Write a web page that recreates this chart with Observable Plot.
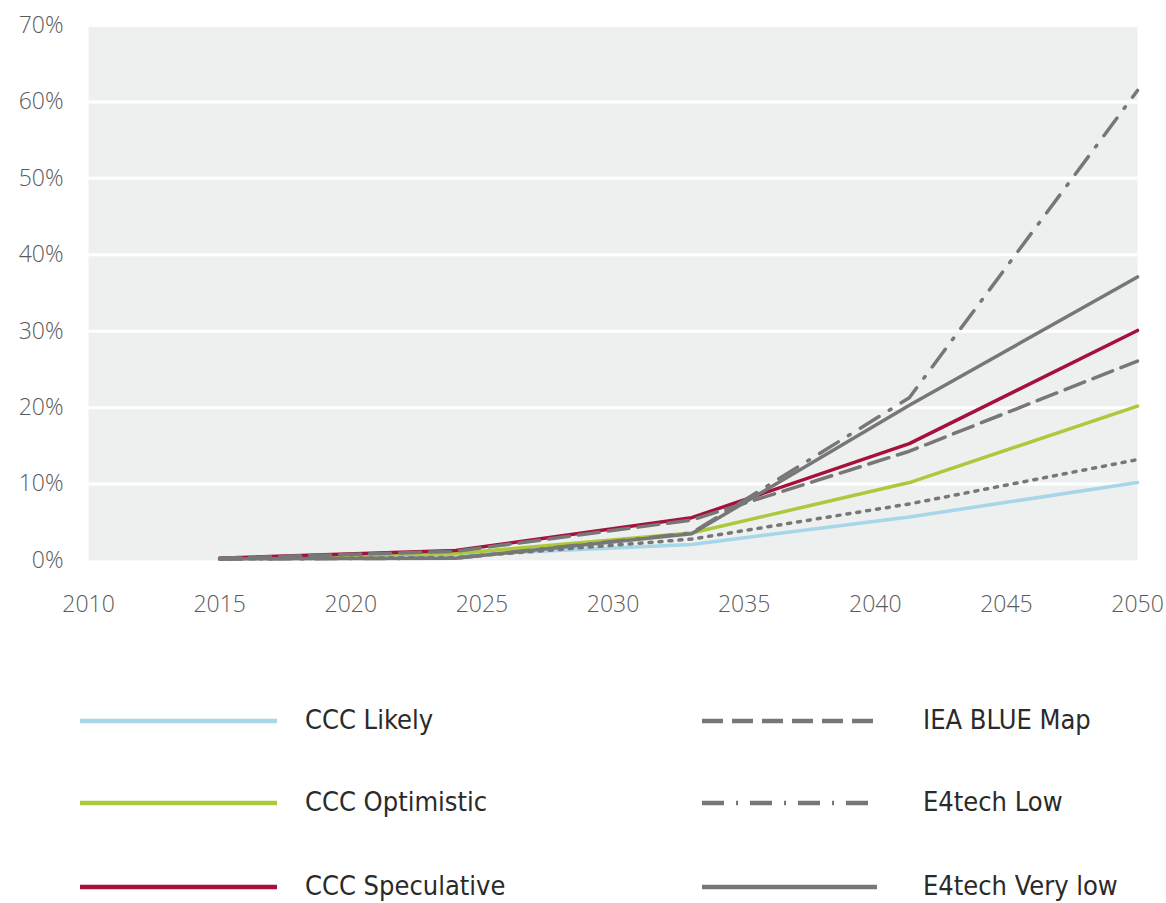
<!DOCTYPE html>
<html>
<head>
<meta charset="utf-8">
<script src="https://cdn.jsdelivr.net/npm/d3@7"></script>
<script src="https://cdn.jsdelivr.net/npm/@observablehq/plot@0.6"></script>
<style>
  html, body { margin: 0; padding: 0; background: #fff; }
  #legend { position: relative; width: 1166px; height: 263px; font-family: "Liberation Sans Narrow", "DejaVu Sans Condensed", sans-serif; font-size: 27px; color: #2a2a2a; }
  .item { position: absolute; display: block; }
  .item svg { position: absolute; left: 0; top: -10px; }
  .item span { position: absolute; white-space: nowrap; top: -17px; }
</style>
</head>
<body>
<div id="chart"></div>
<div id="legend"></div>
<script>
const years = [2015, 2024, 2033, 2041.3, 2050];
const cccLikely      = [0.3, 0.7, 2.1, 5.7, 10.2];
const cccOptimistic  = [0.3, 0.9, 3.6, 10.2, 20.2];
const cccSpeculative = [0.3, 1.3, 5.6, 15.3, 30.1];
const ieaBlueMap     = [0.3, 1.2, 5.3, 14.3, 26.1];
const e4techLow      = [0.2, 0.3, 3.6, 21.3, 61.5];
const e4techVeryLow  = [0.2, 0.3, 3.5, 20.3, 37.1];
const unlabelledDotted = [0.2, 0.4, 2.8, 7.4, 13.2];

const xTicks = [2010, 2015, 2020, 2025, 2030, 2035, 2040, 2045, 2050];
const yTicks = [0, 10, 20, 30, 40, 50, 60, 70];

const series = [
  {name: "CCC Likely", values: cccLikely, color: "#a6d6e7", dash: null, legend: true},
  {name: "CCC Optimistic", values: cccOptimistic, color: "#abc93c", dash: null, legend: true},
  {name: "CCC Speculative", values: cccSpeculative, color: "#a5113b", dash: null, legend: true},
  {name: "Dotted", values: unlabelledDotted, color: "#777", dash: "3,7", legend: false},
  {name: "IEA BLUE Map", values: ieaBlueMap, color: "#777", dash: "21,9", legend: true},
  {name: "E4tech Low", values: e4techLow, color: "#777", dash: "22,12,2,12", legend: true},
  {name: "E4tech Very low", values: e4techVeryLow, color: "#777", dash: null, legend: true}
];

const lineMarks = series.map(s =>
  Plot.line(years.map((yr, i) => ({year: yr, v: s.values[i]})), {
    x: "year", y: "v", stroke: s.color, strokeWidth: 3.5,
    strokeDasharray: s.dash, strokeLinejoin: "round"
  })
);

const chart = Plot.plot({
  width: 1166, height: 640,
  marginLeft: 88, marginRight: 29, marginTop: 25, marginBottom: 80,
  style: {fontFamily: "'Open Sans', sans-serif", fontSize: "23px", color: "#5a5a5a", background: "#fff", fontWeight: 300},
  x: {domain: [2010, 2050], ticks: xTicks, tickFormat: d => String(d), tickSize: 0, tickPadding: 35, label: null},
  y: {domain: [0, 70], ticks: yTicks, tickFormat: d => d + "%", tickSize: 0, tickPadding: 25, label: null},
  marks: [
    Plot.frame({fill: "#eef0f0", stroke: "none"}),
    Plot.ruleY(yTicks.slice(1), {stroke: "#fff", strokeWidth: 3}),
    ...lineMarks
  ]
});
document.getElementById("chart").appendChild(chart);

// Legend (HTML, below the SVG)
const legendPos = [
  {x: 80, w: 197, tx: 305, y: 81},
  {x: 80, w: 197, tx: 305, y: 163},
  {x: 80, w: 197, tx: 305, y: 247},
  {x: 702, w: 175, tx: 923, y: 81},
  {x: 702, w: 175, tx: 923, y: 163},
  {x: 702, w: 175, tx: 923, y: 247}
];
const legend = document.getElementById("legend");
series.filter(s => s.legend).forEach((s, i) => {
  const p = legendPos[i];
  const item = document.createElement("div");
  item.className = "item";
  item.style.left = p.x + "px";
  item.style.top = p.y + "px";
  const dash = s.dash ? `stroke-dasharray="${s.dash}"` : "";
  item.innerHTML = `<svg width="${p.w}" height="20"><line x1="0" x2="${p.w}" y1="10" y2="10" stroke="${s.color}" stroke-width="4.5" ${dash}/></svg><span style="left:${p.tx - p.x}px">${s.name}</span>`;
  legend.appendChild(item);
});
</script>
</body>
</html>
